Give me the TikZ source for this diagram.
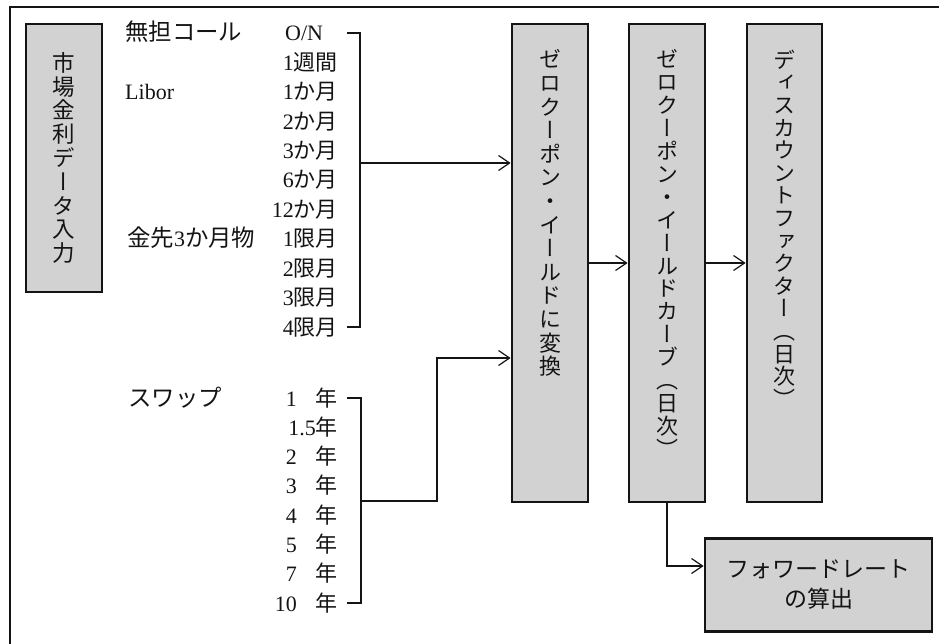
\documentclass[tikz,border=0pt]{standalone}
\usepackage{fontspec}
\setmainfont{Liberation Serif}
\newfontfamily\jp{Noto Sans CJK JP}
\newfontfamily\jpv{Noto Sans CJK JP}[RawFeature=+vert]
\usetikzlibrary{arrows.meta,calc}
\newcommand\J[1]{{\jp #1}}
\newcommand\JL[1]{{\jp\fontsize{23.4}{24}\selectfont #1}}
\definecolor{boxgray}{RGB}{210,210,210}
\definecolor{ink}{RGB}{20,20,20}
\tikzset{
  lbl/.style={inner sep=0pt, font=\fontsize{22}{24}\selectfont, text height=19pt, text depth=3pt, text=ink},
  item/.style={lbl, anchor=east},
  gbox/.style={draw=ink, line width=2.8pt, fill=boxgray, inner sep=0pt},
  vtxt/.style={inner sep=0pt, align=center, text=ink, anchor=north},
  conn/.style={draw=ink, line width=1.2pt},
  arr/.style={conn, -{Straight Barb[length=11pt,width=15pt,line width=1.2pt]}},
  frame/.style={draw=ink, line width=2.8pt}
}
\begin{document}
\begin{tikzpicture}[x=1pt,y=-1pt]
\useasboundingbox (0,0) rectangle (939,644);
% outer frame (top and left only)
\draw[frame] (10,644) -- (10,7) -- (939,7);

% boxes
\node[gbox, minimum width=76pt, minimum height=268pt] (bm) at (64,158) {};
\node[inner sep=0pt, align=center, font=\jpv\fontsize{22.5}{23.8}\selectfont, text=ink] (tm) at (bm.center)
  {市\\場\\金\\利\\デ\\ー\\タ\\入\\力};
\node[gbox, minimum width=76pt, minimum height=478pt] (b1) at (550,263) {};
\node[gbox, minimum width=76pt, minimum height=478pt] (b2) at (667,263) {};
\node[gbox, minimum width=75pt, minimum height=478pt] (b3) at (784.5,263) {};
\node[vtxt, font=\jpv\fontsize{22}{23.6}\selectfont] (t1) at ([yshift=-27pt]b1.north)
  {ゼ\\ロ\\ク\\ー\\ポ\\ン\\・\\イ\\ー\\ル\\ド\\に\\変\\換};
\node[vtxt, font=\jpv\fontsize{22}{22.9}\selectfont] (t2) at ([yshift=-27pt]b2.north)
  {ゼ\\ロ\\ク\\ー\\ポ\\ン\\・\\イ\\ー\\ル\\ド\\カ\\ー\\ブ\\（\\日\\次\\）};
\node[vtxt, font=\jpv\fontsize{22}{22.6}\selectfont] (t3) at ([yshift=-27pt]b3.north)
  {デ\\ィ\\ス\\カ\\ウ\\ン\\ト\\フ\\ァ\\ク\\タ\\ー\\（\\日\\次\\）};
\node[gbox, minimum width=227pt, minimum height=93pt, align=center,
      font=\jp\fontsize{23}{30}\selectfont, text=ink] (bf) at (818.5,585)
  {フォワードレート\\の算出};

% left labels
\node[lbl, anchor=west] (l1) at (125,33) {\JL{無担コール}};
\node[lbl, anchor=west] (l2) at (125,91.8) {Libor};
\node[lbl, anchor=west] (l3) at (127,238.8) {\JL{金先}3\JL{か月物}};
\node[lbl, anchor=west] (l4) at (128,398) {\JL{スワップ}};

% market items
\node[lbl, anchor=west] (c0) at (285,33) {O/N};
\node[item] (c1) at (338,62.4) {1\J{週間}};
\node[item] (c2) at (338,91.8) {1\J{か月}};
\node[item] (c3) at (338,121.2) {2\J{か月}};
\node[item] (c4) at (338,150.6) {3\J{か月}};
\node[item] (c5) at (338,180) {6\J{か月}};
\node[item] (c6) at (338,209.4) {12\J{か月}};
\node[item] (c7) at (338,238.8) {1\J{限月}};
\node[item] (c8) at (338,268.2) {2\J{限月}};
\node[item] (c9) at (338,297.6) {3\J{限月}};
\node[item] (c10) at (338,327) {4\J{限月}};

% swap items
\node[item] (s0) at (338,398) {\makebox[22pt][r]{1}\hspace{19pt}\J{年}};
\node[item] (s1) at (338,427.3) {1.5\J{年}};
\node[item] (s2) at (338,456.6) {\makebox[22pt][r]{2}\hspace{19pt}\J{年}};
\node[item] (s3) at (338,485.9) {\makebox[22pt][r]{3}\hspace{19pt}\J{年}};
\node[item] (s4) at (338,515.2) {\makebox[22pt][r]{4}\hspace{19pt}\J{年}};
\node[item] (s5) at (338,544.5) {\makebox[22pt][r]{5}\hspace{19pt}\J{年}};
\node[item] (s6) at (338,573.8) {\makebox[22pt][r]{7}\hspace{19pt}\J{年}};
\node[item] (s7) at (338,603.1) {\makebox[22pt][r]{10}\hspace{19pt}\J{年}};

% bracket 1
\coordinate (a1) at (347,33);
\coordinate (a2) at (360,33);
\coordinate (a3) at (360,327);
\coordinate (a4) at (347,327);
\coordinate (m1) at (360,163);
\draw[conn] (a1) -- (a2) -- (a3) -- (a4);
\draw[arr] (m1) -- (m1 -| b1.west);

% bracket 2
\coordinate (e1) at (347,398);
\coordinate (e2) at (361,398);
\coordinate (e3) at (361,603);
\coordinate (e4) at (347,603);
\coordinate (m2) at (361,501);
\coordinate (k1) at (437,501);
\coordinate (k2) at (437,358);
\draw[conn] (e1) -- (e2) -- (e3) -- (e4);
\draw[arr] (m2) -- (k1) -- (k2) -- (k2 -| b1.west);

% flow
\draw[arr] (b1.east) -- (b2.west);
\draw[arr] (b2.east) -- (b3.west);
\draw[arr] (b2.south) |- ([yshift=19pt]bf.west);
\end{tikzpicture}
\end{document}
